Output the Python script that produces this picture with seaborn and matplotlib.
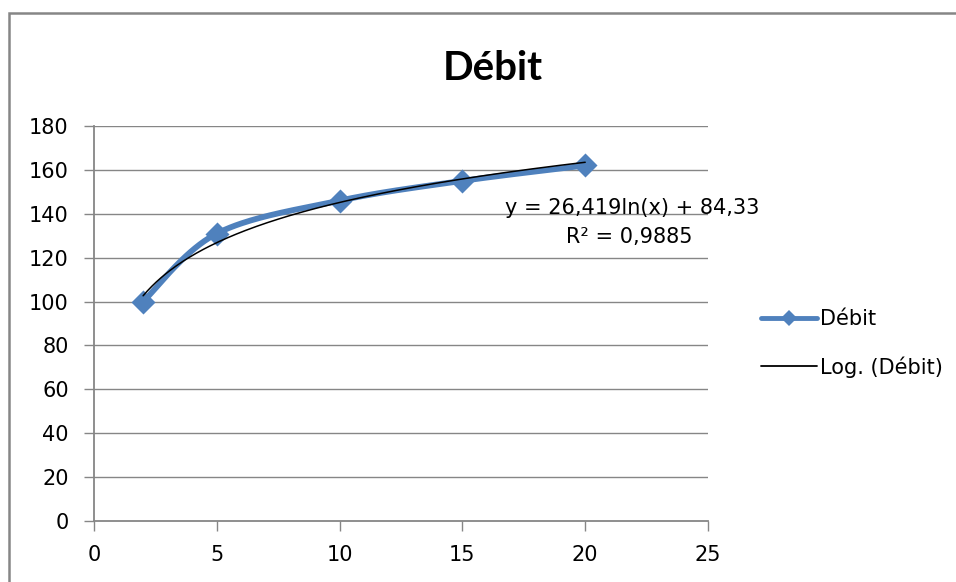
import numpy as np
import pandas as pd
import matplotlib
matplotlib.use("Agg")
import matplotlib.pyplot as plt
from matplotlib.lines import Line2D
from matplotlib.patches import Rectangle
import seaborn as sns

# Series values
x_vals = [2, 5, 10, 15, 20]
debit = [100, 131, 146, 155, 162]
series_name = "Débit"
trend_name = "Log. (Débit)"
coef_a = 26.419
coef_b = 84.33
r2 = 0.9885
x_ticks = [0, 5, 10, 15, 20, 25]
y_ticks = [0, 20, 40, 60, 80, 100, 120, 140, 160, 180]

sns.set_style("white")
plt.rcParams["font.family"] = ["DejaVu Sans"]
plt.rcParams["text.color"] = "black"

BLUE = "#4F81BD"
GRID = "#868686"
FS = 15


def smooth_curve(xs, ys, n=40):
    """Bezier smoothing through the points (Catmull-Rom style control points)."""
    p = np.column_stack([xs, ys]).astype(float)
    pts = []
    for i in range(len(p) - 1):
        p0 = p[i - 1] if i > 0 else p[i]
        p1, p2 = p[i], p[i + 1]
        p3 = p[i + 2] if i + 2 < len(p) else p[i + 1]
        c1 = p1 + (p2 - p0) / 6.0
        c2 = p2 - (p3 - p1) / 6.0
        t = np.linspace(0, 1, n)[:, None]
        seg = ((1 - t) ** 3) * p1 + 3 * ((1 - t) ** 2) * t * c1 + 3 * (1 - t) * t ** 2 * c2 + t ** 3 * p2
        pts.append(seg if i == 0 else seg[1:])
    out = np.vstack(pts)
    return out[:, 0], out[:, 1]


sx, sy = smooth_curve(x_vals, debit)
smooth_df = pd.DataFrame({"x": sx, "y": sy})
pts_df = pd.DataFrame({"x": x_vals, "y": debit})
tx = np.linspace(min(x_vals), max(x_vals), 200)
trend_df = pd.DataFrame({"x": tx, "y": coef_a * np.log(tx) + coef_b})

W, H = 956, 582
fig = plt.figure(figsize=(W / 100, H / 100), dpi=100)
ax = fig.add_axes([94 / W, 1 - 521 / H, (708 - 94) / W, (521 - 126) / H])

# chart frame (left and top edges visible)
fig.patches.append(Rectangle((9 / W, -0.2), 1.5, 1.2 - 13 / H,
                             transform=fig.transFigure, fill=False,
                             edgecolor=GRID, linewidth=1.8, zorder=0))

for yv in y_ticks[1:]:
    ax.axhline(yv, color=GRID, linewidth=1.0, zorder=0)

sns.lineplot(data=smooth_df, x="x", y="y", ax=ax, color=BLUE, linewidth=4.2,
             sort=False, estimator=None, zorder=2)
sns.scatterplot(data=pts_df, x="x", y="y", ax=ax, color=BLUE, marker="D",
                s=150, edgecolor=BLUE, linewidth=0, zorder=3)
sns.lineplot(data=trend_df, x="x", y="y", ax=ax, color="black", linewidth=1.1,
             sort=False, estimator=None, zorder=4)

ax.set_xlim(0, 25)
ax.set_ylim(0, 180)
ax.set_xticks(x_ticks)
ax.set_yticks(y_ticks)
ax.set_xlabel("")
ax.set_ylabel("")
for side in ["top", "right"]:
    ax.spines[side].set_visible(False)
for side in ["left", "bottom"]:
    ax.spines[side].set_color(GRID)
    ax.spines[side].set_linewidth(1.3)
ax.tick_params(axis="both", which="major", direction="out", length=7.2, width=1.0,
               color=GRID, labelsize=FS, labelcolor="black", bottom=True, left=True)
ax.tick_params(axis="x", pad=10)
ax.tick_params(axis="y", pad=11)

fig.text(493 / W, 1 - 80 / H, series_name, ha="center", va="baseline",
         fontsize=29, fontweight="bold", color="black",
         family=["Lato", "DejaVu Sans"])

eq = f"y = {coef_a:.3f}ln(x) + {coef_b:.2f}".replace(".", ",")
r2_txt = f"R² = {r2:.4f}".replace(".", ",")
ax.text(21.9, 142.6, eq, ha="center", va="center", fontsize=FS, color="black")
ax.text(21.8, 129.4, r2_txt, ha="center", va="center", fontsize=FS, color="black")

handles = [
    Line2D([0], [0], color=BLUE, linewidth=3.5, marker="D", markersize=8.5,
           markeredgewidth=0),
    Line2D([0], [0], color="black", linewidth=1.3),
]
leg = fig.legend(handles, [series_name, trend_name], loc="center left",
                 bbox_to_anchor=(761 / W, 1 - 343.5 / H), frameon=False, fontsize=FS,
                 handlelength=2.7, handletextpad=0.15, labelspacing=1.3,
                 borderaxespad=0, borderpad=0)
for t in leg.get_texts():
    t.set_color("black")

fig.savefig("out.png", dpi=100)
